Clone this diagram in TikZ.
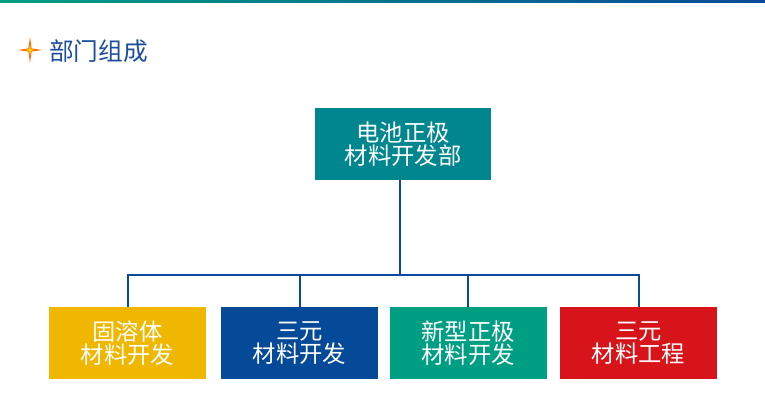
\documentclass[tikz,border=0pt]{standalone}
\usepackage{fontspec}
\setmainfont{Noto Sans CJK SC}
\usepackage{xcolor}
\usetikzlibrary{positioning}

\definecolor{deptteal}{HTML}{00868F}
\definecolor{gold}{HTML}{EFB700}
\definecolor{navy}{HTML}{054A98}
\definecolor{jade}{HTML}{009E82}
\definecolor{crimson}{HTML}{D7141A}
\definecolor{linkblue}{HTML}{0B4A9A}
\definecolor{titleblue}{HTML}{1D4E9E}

\begin{document}
\begin{tikzpicture}[
    x=0.75pt, y=-0.75pt,
    box/.style={minimum width=117.75pt, minimum height=54pt, inner sep=0pt, align=center,
                text=white, font=\fontsize{17.5}{17.5}\selectfont},
    link/.style={draw=linkblue, line width=1.5pt}
]
    \useasboundingbox (0,0) rectangle (765,419);
    \shade[left color=jade, right color=linkblue] (0,0) rectangle (765,2.5);

    % heading
    \fill[orange!80!red] (30,37) -- (31.6,48.4) -- (42,50) -- (31.6,51.6) -- (30,63) -- (28.4,51.6) -- (18,50) -- (28.4,48.4) -- cycle;
    \fill[yellow!90!orange] (30,44) -- (30.8,49.2) -- (35,50) -- (30.8,50.8) -- (30,56) -- (29.2,50.8) -- (25,50) -- (29.2,49.2) -- cycle;
    \node[anchor=west, inner sep=0pt, text=titleblue, font=\fontsize{18.5}{18.5}\selectfont] (head) at (49,51) {部门组成};

    \node[box, fill=deptteal, minimum width=132pt] (dept) at (403,144) {电池正极\\材料开发部};
    \node[box, fill=gold] (solid) at (127.5,343) {固溶体\\材料开发};
    \node[box, fill=navy] (ternd) at (299.5,343) {三元\\材料开发};
    \node[box, fill=jade] (novel) at (468,343) {新型正极\\材料开发};
    \node[box, fill=crimson] (terne) at (638.5,343) {三元\\材料工程};

    \coordinate (bus) at (400,275);
    \draw[link] (dept.south -| bus) -- (bus);
    \draw[link] (solid.north) |- (bus) -| (terne.north);
    \draw[link] (ternd.north) -- (ternd.north |- bus);
    \draw[link] (novel.north) -- (novel.north |- bus);
\end{tikzpicture}
\end{document}
